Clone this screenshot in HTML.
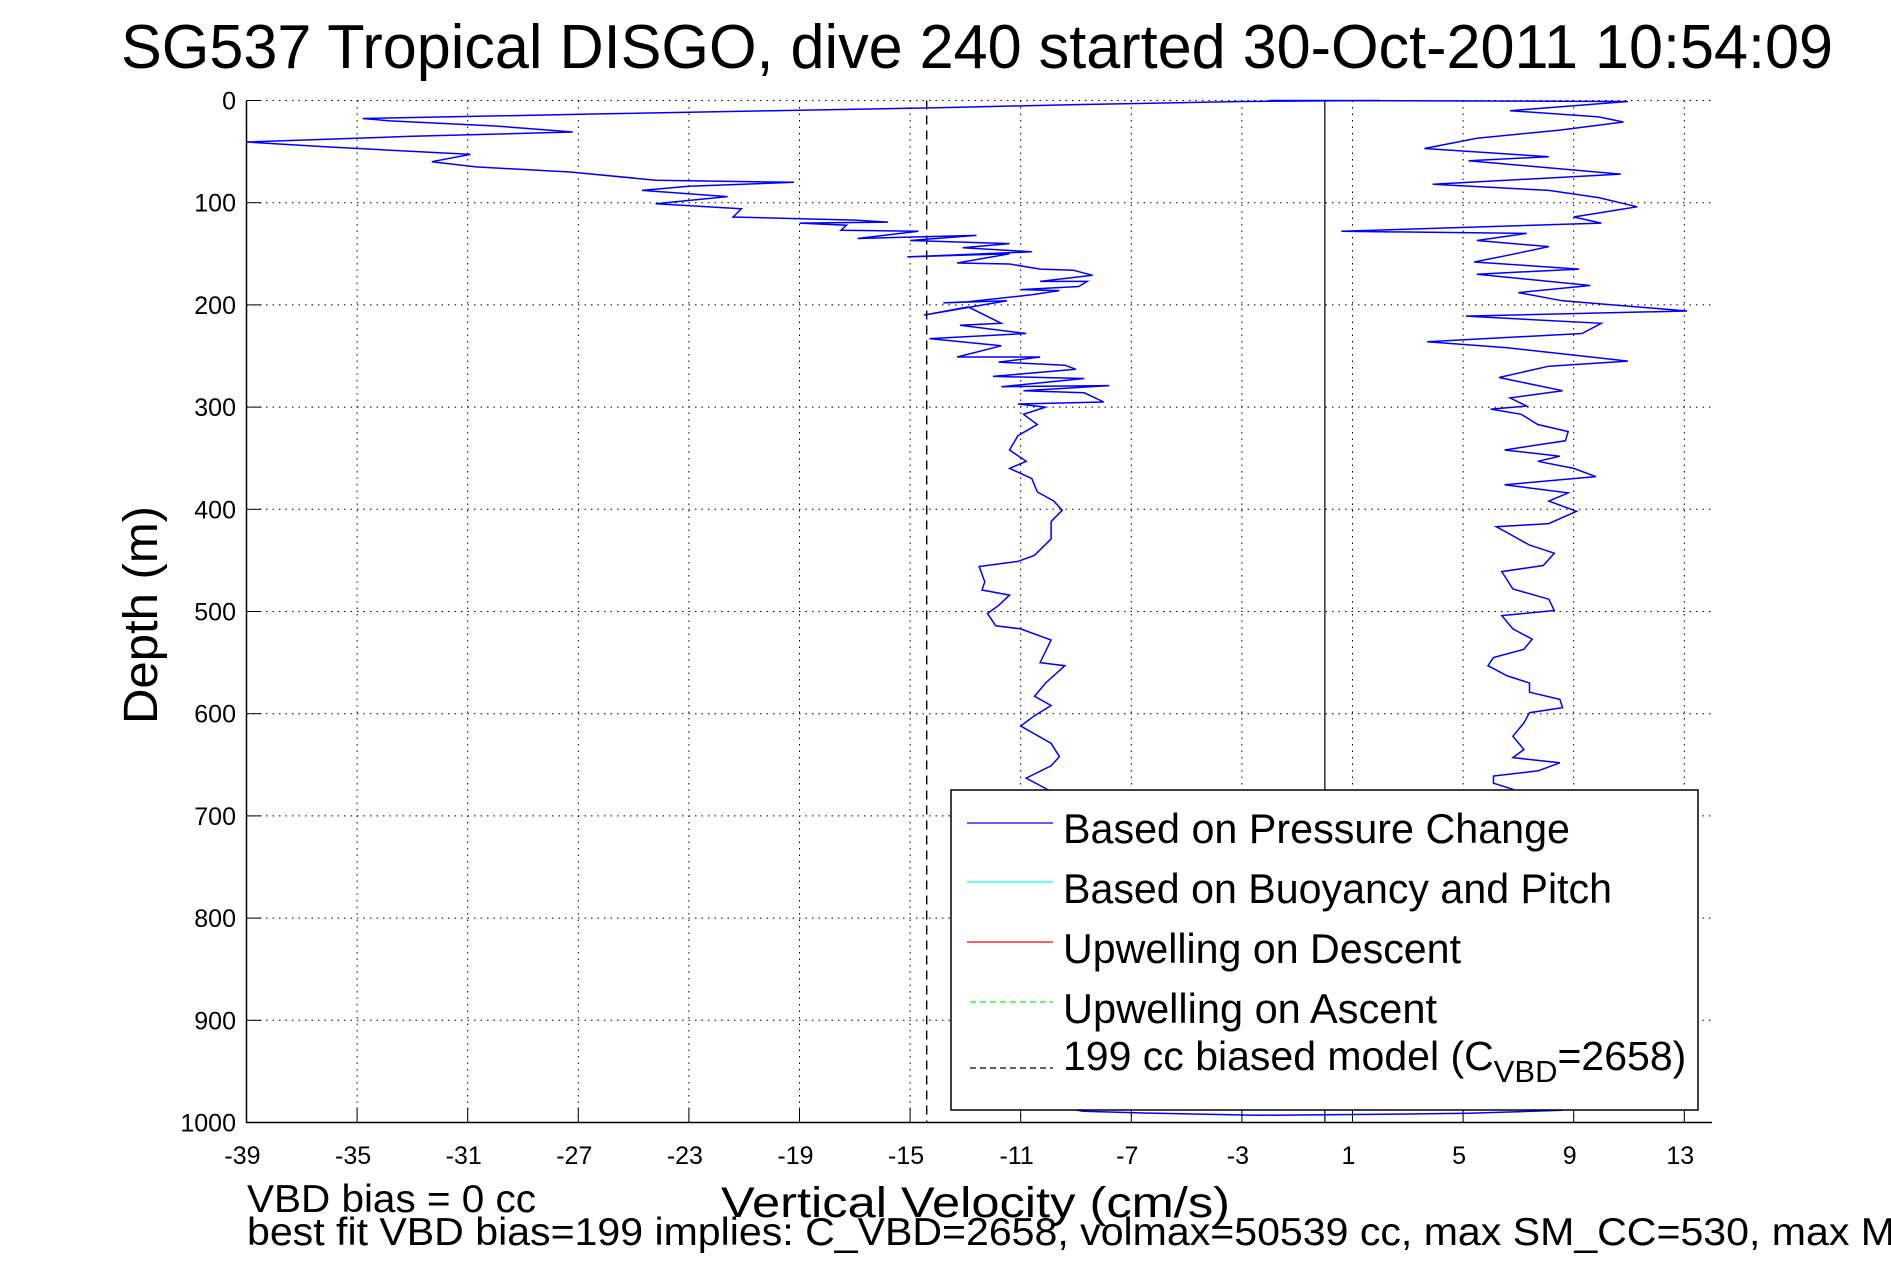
<!DOCTYPE html>
<html><head><meta charset="utf-8"><style>
html,body{margin:0;padding:0;background:#fff;}
svg{display:block;font-family:"Liberation Sans",sans-serif;}
</style></head><body>
<svg id="chart" width="1891" height="1262" viewBox="0 0 1891 1262" xmlns="http://www.w3.org/2000/svg">
<rect x="0" y="0" width="1891" height="1262" fill="#fff"/>
<text x="121" y="68" font-size="62" textLength="1712" lengthAdjust="spacingAndGlyphs">SG537 Tropical DISGO, dive 240 started 30-Oct-2011 10:54:09</text>
<g id="grid"></g>
<g id="series"></g>
<g id="axes"></g>
<text transform="translate(157,615) rotate(-90)" text-anchor="middle" font-size="48" textLength="218" lengthAdjust="spacingAndGlyphs">Depth (m)</text>
<text x="721" y="1217" font-size="43" textLength="509" lengthAdjust="spacingAndGlyphs">Vertical Velocity (cm/s)</text>
<text x="247" y="1212" font-size="39" textLength="289" lengthAdjust="spacingAndGlyphs">VBD bias = 0 cc</text>
<text x="247" y="1245" font-size="39" textLength="1648" lengthAdjust="spacingAndGlyphs">best fit VBD bias=199 implies: C_VBD=2658, volmax=50539 cc, max SM_CC=530, max M</text>
<g id="legend">
<rect x="951" y="790" width="747" height="320" fill="#fff" stroke="#000" stroke-width="1.5"/>
<line x1="967" y1="823" x2="1053" y2="823" stroke="#0000ff" stroke-width="1.2"/>
<text x="1063" y="843" font-size="42" textLength="507" lengthAdjust="spacingAndGlyphs">Based on Pressure Change</text>
<line x1="967" y1="882" x2="1053" y2="882" stroke="#00ffff" stroke-width="1.2"/>
<text x="1063" y="903" font-size="42" textLength="549" lengthAdjust="spacingAndGlyphs">Based on Buoyancy and Pitch</text>
<line x1="967" y1="942" x2="1053" y2="942" stroke="#ff0000" stroke-width="1.2"/>
<text x="1063" y="963" font-size="42" textLength="398" lengthAdjust="spacingAndGlyphs">Upwelling on Descent</text>
<line x1="970" y1="1002" x2="1053" y2="1002" stroke="#00ff00" stroke-width="1.2" stroke-dasharray="6,4"/>
<text x="1063" y="1023" font-size="42" textLength="374" lengthAdjust="spacingAndGlyphs">Upwelling on Ascent</text>
<line x1="970" y1="1068" x2="1053" y2="1068" stroke="#000" stroke-width="1.2" stroke-dasharray="6,4"/>
<text x="1063" y="1070" font-size="41">199 cc biased model (C<tspan font-size="31" dy="12">VBD</tspan><tspan dy="-12">=2658)</tspan></text>
</g>
</svg>
<script>
const xTicks = [-39,-35,-31,-27,-23,-19,-15,-11,-7,-3,1,5,9,13];
const yTicks = [0,100,200,300,400,500,600,700,800,900,1000];
const modelVelocity = -14.4;
const descentDepth = [0,1,4,7,10,13,17.6,20,25,30.8,35,40.6,45.5,52.7,59.9,65,70,78,80,84,88,94,101,106,114,117,119,120,122,127,128,135,132,137,140,144,148,153,150,159,160,165,166,171,177,177,182,185,186,190,197,198,196,210,202,218,220,228,233,240,251,251,256,259,263,270,272,280,279,284,286,295,297,300,307,317,328,342,353,360,370,383,392,401,412,429,445,451,456,471,479,484,494,502,514,517,528,550,553,570,583,592,602,612,629,642,651,663,676,720,800,900,985,989];
const descentVel = [2,-3,-9,-14,-20,-26,-34.8,-33.8,-30,-27.2,-33,-39,-36,-30.9,-32.3,-30.7,-27.3,-24.2,-19.2,-23,-24.7,-21.6,-24.2,-21.1,-21.4,-17,-15.8,-19,-17.3,-17.5,-14.7,-16.9,-12.6,-15,-11.4,-13.1,-10.6,-15.1,-11.4,-13.3,-11.4,-10.3,-9.1,-8.4,-10.3,-8.6,-8.9,-11,-9.6,-10.6,-12.9,-13.8,-11.5,-14.5,-12.9,-11.7,-13.2,-10.8,-14.3,-11.7,-13.3,-10.3,-11.8,-9.4,-9.0,-12,-8.7,-11.7,-7.8,-10.9,-8.7,-8,-11.1,-10.1,-10.9,-10.4,-11.1,-11.4,-10.8,-11.4,-10.6,-10.4,-9.8,-9.5,-9.9,-9.9,-10.5,-11.1,-12.5,-12.3,-12.4,-11.4,-11.8,-12.2,-11.9,-11,-9.9,-10.3,-9.4,-10.1,-10.5,-9.9,-10.5,-11,-9.9,-9.6,-9.9,-10.8,-9.9,-10,-10,-9.8,-9.5,-8.75];
const bottomDepth = [989,991,993,992,991,988];
const bottomVel = [-8.75,-6.1,-2.5,2.1,5.2,8.6];
const ascentDepth = [988,900,800,700,674,668,661,656,648,643,635,622,609,599,594,586,579,570,563,553,545,537,527,517,504,499,488,478,461,455,443,435,429,417,414,402,392,384,376,368,360,353,348,342,337,333,324,317,307,302,299,291,284,271,260,255,250,242,236,228,218,211,206,196,188,181,170,165,158,151,143,137,130,128,120,114,104,95,88,82,72,59,55,47,37,29,21,16,10,1,0,0];
const ascentVel = [8.6,7,7,6.8,6.8,6.1,6.1,7.7,8.5,6.8,7.2,6.8,7.2,7.4,8.6,8.5,7.4,7.4,6.6,5.9,6.1,7.2,7.5,6.8,6.4,8.3,8.1,6.8,6.4,7.9,8.3,7.4,7.0,6.2,8.1,9.1,8.1,8.8,6.5,9.8,9.0,7.7,8.5,6.5,7.7,8.7,8.8,7.7,7.1,6.0,7.3,6.7,8.6,6.3,8.1,10.96,9.3,6.6,3.7,9.3,10,5.1,13.1,8.6,7,9.6,5.5,9.2,5.4,6.7,8.1,5.5,7.3,0.6,10,9,11.3,9.9,8.1,3.9,10.7,5.2,8.1,3.6,5.5,8.5,10.8,9.9,6.7,10.96,0,-2];

const SVGNS = 'http://www.w3.org/2000/svg';
const X0 = 246.5, PXU = 27.65, Y0 = 100.5, PXD = 1.022;
const XMIN = -39, XMAX = 14, DMAX = 1000;
function xs(v){ return X0 + (v - XMIN) * PXU; }
function ys(d){ return Y0 + d * PXD; }
const pLeft = xs(XMIN), pRight = xs(XMAX), pTop = ys(0), pBottom = ys(DMAX);

function mk(tag, attrs, parent){
  const el = document.createElementNS(SVGNS, tag);
  for (const k in attrs) el.setAttribute(k, attrs[k]);
  parent.appendChild(el);
  return el;
}
const gridG = document.getElementById('grid');
const seriesG = document.getElementById('series');
const axesG = document.getElementById('axes');

xTicks.forEach(function(t){
  const g = mk('line', {x1: xs(t), x2: xs(t), y1: pTop, y2: pBottom, stroke: '#000', 'stroke-width': 1, 'stroke-dasharray': '1.5,5'}, gridG);
  
  
  const tk = mk('line', {x1: xs(t), x2: xs(t), y1: pBottom, y2: pBottom - 15, stroke: '#000', 'stroke-width': 1}, axesG);
  
  
  const lb = mk('text', {x: xs(t) - 4, y: 1164, 'font-size': 25, 'text-anchor': 'middle'}, axesG);
  lb.textContent = String(t);
  
  
});
yTicks.forEach(function(t){
  const g = mk('line', {x1: pLeft, x2: pRight, y1: ys(t), y2: ys(t), stroke: '#000', 'stroke-width': 1, 'stroke-dasharray': '1.5,5'}, gridG);
  
  
  const tk = mk('line', {x1: pLeft, x2: pLeft + 15, y1: ys(t), y2: ys(t), stroke: '#000', 'stroke-width': 1}, axesG);
  
  
  const lb = mk('text', {x: 236, y: ys(t) + 9, 'font-size': 25, 'text-anchor': 'end'}, axesG);
  lb.textContent = String(t);
  
  
});

const zl = mk('line', {x1: xs(0), x2: xs(0), y1: pTop, y2: pBottom, stroke: '#000', 'stroke-width': 1.2}, seriesG);


const ml = mk('line', {x1: xs(modelVelocity), x2: xs(modelVelocity), y1: pTop, y2: pBottom, stroke: '#000', 'stroke-width': 1.4, 'stroke-dasharray': '9,6'}, seriesG);



function pathD(depths, vels){
  return depths.map(function(d, i){ return (i ? 'L' : 'M') + xs(vels[i]).toFixed(1) + ',' + ys(d).toFixed(1); }).join(' ');
}
const p1 = mk('path', {d: pathD(descentDepth, descentVel), fill: 'none', stroke: '#0000ff', 'stroke-width': 1.5}, seriesG);


const p2 = mk('path', {d: pathD(bottomDepth, bottomVel), fill: 'none', stroke: '#0000ff', 'stroke-width': 1.5}, seriesG);


const p3 = mk('path', {d: pathD(ascentDepth, ascentVel), fill: 'none', stroke: '#0000ff', 'stroke-width': 1.5}, seriesG);



const ax = mk('path', {d: 'M' + pLeft + ',' + pTop + ' L' + pLeft + ',' + pBottom + ' L' + pRight + ',' + pBottom, fill: 'none', stroke: '#000', 'stroke-width': 1.5}, axesG);



const chartSvg = document.getElementById('chart');
chartSvg.appendChild(document.getElementById('legend'));
</script>
</body></html>
